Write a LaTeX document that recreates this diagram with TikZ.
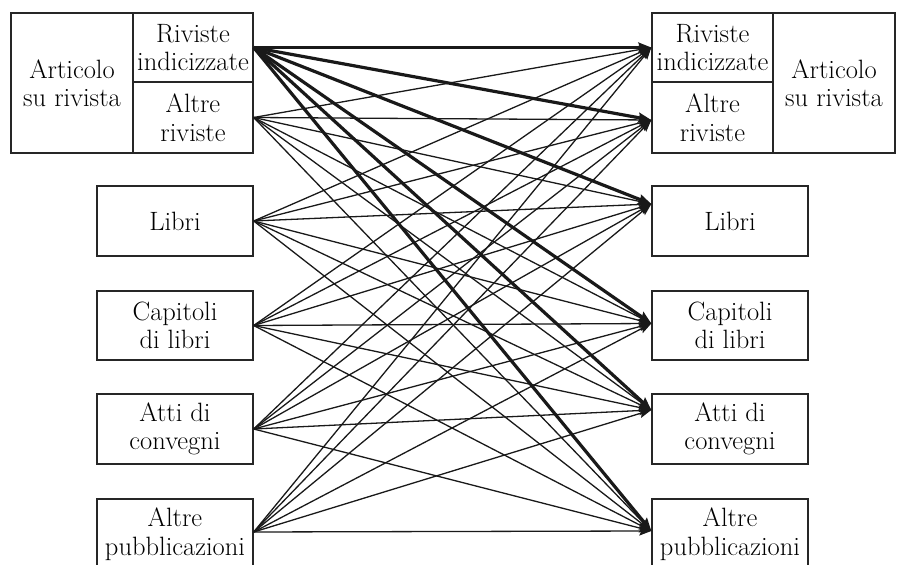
\documentclass[tikz,border=0pt]{standalone}
\usepackage{fontspec}
\usetikzlibrary{arrows.meta}
\begin{document}
\begin{tikzpicture}[x=1pt,y=1pt,
  box/.style={draw=black!85, line width=1.4pt, rectangle, inner sep=0pt, align=center,
    font=\fontsize{26.5}{28.5}\selectfont},
  thinarr/.style={line width=1.3pt, black!90, -{Stealth[length=12pt,width=9pt,inset=2pt]}},
  thickarr/.style={line width=3.2pt, black!90, -{Stealth[length=13pt,width=10pt,inset=2pt]}}]
\useasboundingbox (0,0) rectangle (898,565);
\clip (0,0) rectangle (898,565);
% left nodes
\node[box, minimum width=122pt, minimum height=140pt] (LArt) at (72,482) {Articolo\\su rivista};
\node[box, minimum width=120pt, minimum height=69pt] (LRI) at (193,517.5) {Riviste\\indicizzate};
\node[box, minimum width=120pt, minimum height=71pt] (LAR) at (193,447.5) {Altre\\riviste};
\node[box, minimum width=156pt, minimum height=70pt] (LLib) at (175,344) {Libri};
\node[box, minimum width=156pt, minimum height=69pt] (LCap) at (175,239.5) {Capitoli\\di libri};
\node[box, minimum width=156pt, minimum height=70pt] (LAtti) at (175,136) {Atti di\\convegni};
\node[box, minimum width=156pt, minimum height=70pt] (LAltre) at (175,31) {Altre\\pubblicazioni};
% right nodes
\node[box, minimum width=121pt, minimum height=69pt] (RRI) at (712.5,517.5) {Riviste\\indicizzate};
\node[box, minimum width=121pt, minimum height=71pt] (RAR) at (712.5,447.5) {Altre\\riviste};
\node[box, minimum width=122pt, minimum height=140pt] (RArt) at (834,482) {Articolo\\su rivista};
\node[box, minimum width=156pt, minimum height=70pt] (RLib) at (730,344) {Libri};
\node[box, minimum width=156pt, minimum height=69pt] (RCap) at (730,239.5) {Capitoli\\di libri};
\node[box, minimum width=156pt, minimum height=70pt] (RAtti) at (730,136) {Atti di\\convegni};
\node[box, minimum width=156pt, minimum height=70pt] (RAltre) at (730,31) {Altre\\pubblicazioni};
% source points
\coordinate (s1) at (LRI.east);
\coordinate (s2) at (LAR.east);
\coordinate (s3) at (LLib.east);
\coordinate (s4) at (LCap.east);
\coordinate (s5) at (LAtti.east);
\coordinate (s6) at ([yshift=2pt]LAltre.east);
% target points
\coordinate (t1) at (RRI.west);
\coordinate (t2) at ([yshift=-2.5pt]RAR.west);
\coordinate (t3) at ([yshift=17pt]RLib.west);
\coordinate (t4) at ([yshift=2pt]RCap.west);
\coordinate (t5) at ([yshift=19pt]RAtti.west);
\coordinate (t6) at ([yshift=3pt]RAltre.west);
% thin arrows
\foreach \s in {2,...,6}{
  \foreach \t in {1,...,6}{
    \draw[thinarr] (s\s) -- (t\t);
  }
}
% thick arrows
\foreach \t in {1,...,6}{
  \draw[thickarr] (s1) -- (t\t);
}
\end{tikzpicture}
\end{document}
